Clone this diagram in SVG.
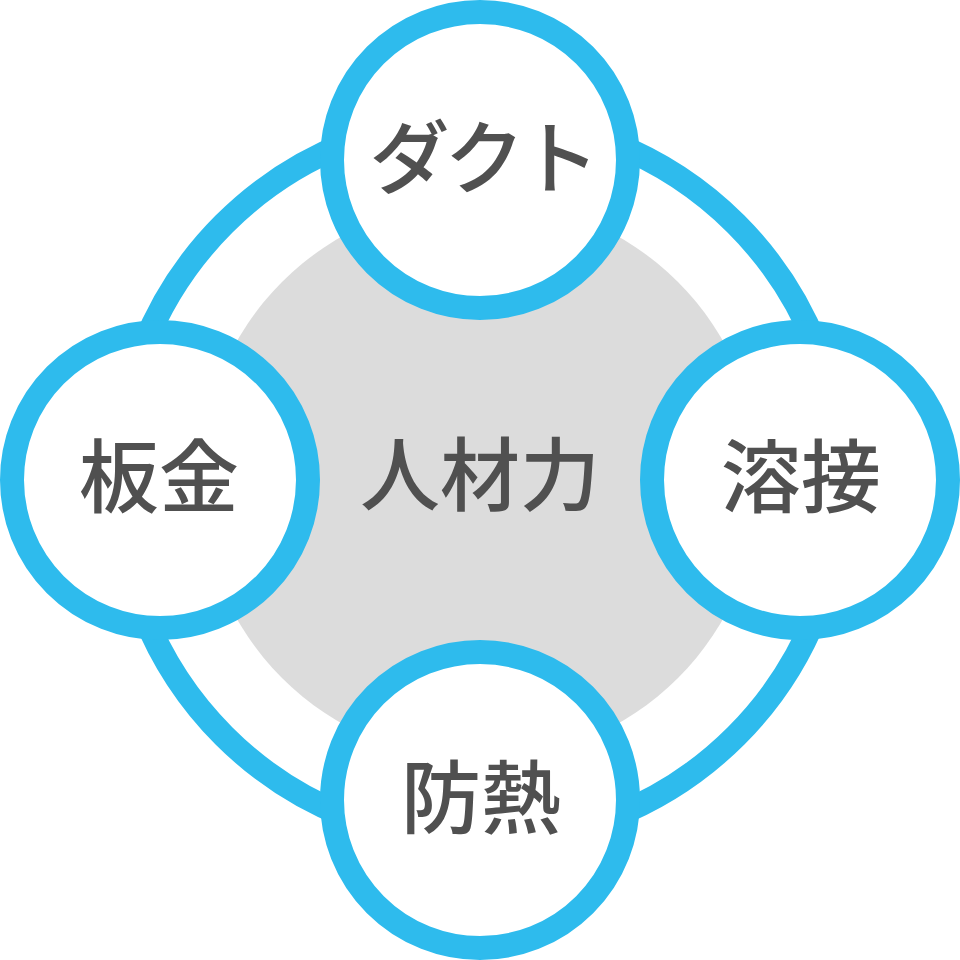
<svg xmlns="http://www.w3.org/2000/svg" width="960" height="960" viewBox="0 0 960 960">
  <style>
    .ring { fill: none; stroke: #2ebbed; stroke-width: 24; }
    .node { fill: #ffffff; stroke: #2ebbed; stroke-width: 24; }
    .label { font-family: "Noto Sans CJK JP", "Noto Sans", sans-serif; font-size: 80px; font-weight: 500; fill: #505050; text-anchor: middle; }
  </style>
  <rect width="960" height="960" fill="#ffffff"/>
  <g id="core">
    <circle cx="480" cy="480" r="280" fill="#dcdcdc"/>
    <text class="label" x="480" y="504">人材力</text>
  </g>
  <g id="connectors">
    <circle class="ring" cx="480" cy="480" r="362"/>
  </g>
  <g id="node-duct">
    <circle class="node" cx="480" cy="160" r="148"/>
    <text class="label" x="482" y="187" letter-spacing="-5">ダクト</text>
  </g>
  <g id="node-yosetsu">
    <circle class="node" cx="800" cy="480" r="148"/>
    <text class="label" x="801" y="506">溶接</text>
  </g>
  <g id="node-bounetsu">
    <circle class="node" cx="480" cy="800" r="148"/>
    <text class="label" x="481" y="827">防熱</text>
  </g>
  <g id="node-bankin">
    <circle class="node" cx="160" cy="480" r="148"/>
    <text class="label" x="159" y="506">板金</text>
  </g>
</svg>
